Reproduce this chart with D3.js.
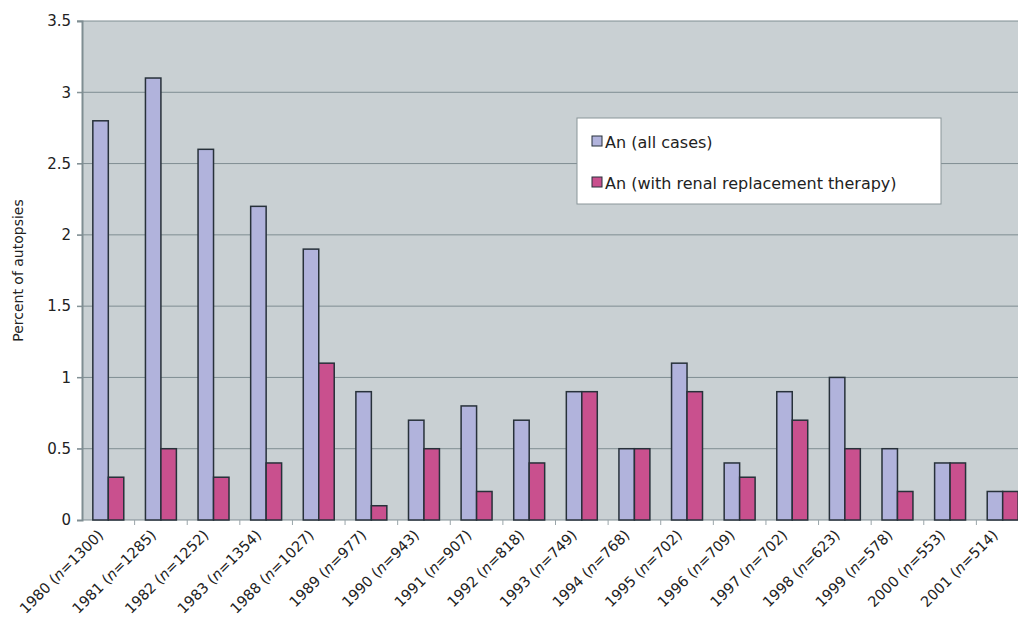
<!DOCTYPE html>
<html>
<head>
<meta charset="utf-8">
<script src="https://cdn.jsdelivr.net/npm/d3@7/dist/d3.min.js"></script>
<style>
body{margin:0;background:#fff;}
svg{display:block;overflow:hidden;}
</style>
</head>
<body>
<div id="chart"></div>
<script>
// data
var years = ["1980","1981","1982","1983","1988","1989","1990","1991","1992","1993","1994","1995","1996","1997","1998","1999","2000","2001"];
var nCases = [1300,1285,1252,1354,1027,977,943,907,818,749,768,702,709,702,623,578,553,514];
var allCases = [2.8,3.1,2.6,2.2,1.9,0.9,0.7,0.8,0.7,0.9,0.5,1.1,0.4,0.9,1.0,0.5,0.4,0.2];
var renalCases = [0.3,0.5,0.3,0.4,1.1,0.1,0.5,0.2,0.4,0.9,0.5,0.9,0.3,0.7,0.5,0.2,0.4,0.2];
var yTicks = [0,0.5,1,1.5,2,2.5,3,3.5];
var seriesNames = ["An (all cases)","An (with renal replacement therapy)"];
var colors = ["#b1b3dc","#c9508e"];

var W = 1018, H = 626;
var margin = {top:21, left:82};
var plotW = 947, plotH = 499; // plot runs past the right edge like the original

var svg = d3.select("#chart").append("svg")
	.attr("width",W).attr("height",H);

var x = d3.scaleBand().domain(years).range([margin.left, margin.left+plotW]);
var xs = d3.scaleBand().domain([0,1]).range([0, x.bandwidth()]).paddingInner(0).paddingOuter(0.7);
var y = d3.scaleLinear().domain([0,3.5]).range([margin.top+plotH, margin.top]);

// plot background
svg.append("rect")
	.attr("x",margin.left).attr("y",margin.top)
	.attr("width",plotW).attr("height",plotH)
	.attr("fill","#c9d0d3");

// gridlines
svg.append("g").selectAll("line").data(yTicks.slice(1)).enter().append("line")
	.attr("x1",margin.left-5).attr("x2",margin.left+plotW)
	.attr("y1",function(d){return y(d);}).attr("y2",function(d){return y(d);})
	.attr("stroke","#7f8d92").attr("stroke-width",1);

// y axis
var yAxis = svg.append("g")
	.attr("transform","translate("+margin.left+",0)")
	.call(d3.axisLeft(y).tickValues(yTicks).tickSize(5).tickFormat(function(d){return d;}));
yAxis.select(".domain").attr("stroke","#7f8d92").attr("stroke-width",2);
yAxis.selectAll(".tick line").attr("stroke","#7f8d92");
yAxis.selectAll(".tick text")
	.attr("font-family","DejaVu Sans, Verdana, sans-serif")
	.attr("font-size","15px").attr("fill","#222").attr("x",-11);

// x axis
var xAxis = svg.append("g")
	.attr("transform","translate(0,"+(margin.top+plotH)+")");
xAxis.append("line")
	.attr("x1",margin.left).attr("x2",margin.left+plotW)
	.attr("stroke","#7f8d92");
xAxis.selectAll(".tk").data(years).enter().append("line")
	.attr("class","tk")
	.attr("x1",function(d){return x(d)+x.bandwidth();})
	.attr("x2",function(d){return x(d)+x.bandwidth();})
	.attr("y1",0).attr("y2",5)
	.attr("stroke","#9aa5a9");

var lbl = xAxis.selectAll(".lbl").data(years).enter().append("text")
	.attr("class","lbl")
	.attr("transform",function(d){
		return "translate("+(x(d)+x.bandwidth()/2-4)+",16) rotate(-45)";
	})
	.attr("text-anchor","end")
	.attr("font-family","DejaVu Sans, Verdana, sans-serif")
	.attr("font-size","14.5px").attr("fill","#222");
lbl.each(function(d,i){
	var t = d3.select(this);
	t.append("tspan").text(d+" (");
	t.append("tspan").attr("font-style","italic").text("n");
	t.append("tspan").text("="+nCases[i]+")");
});

// bars
var groups = svg.append("g").selectAll("g").data(years).enter().append("g")
	.attr("transform",function(d){return "translate("+x(d)+",0)";});
groups.selectAll("rect").data(function(d,i){return [allCases[i],renalCases[i]];})
	.enter().append("rect")
	.attr("x",function(d,j){return xs(j);})
	.attr("width",xs.bandwidth())
	.attr("y",function(d){return y(d);})
	.attr("height",function(d){return y(0)-y(d);})
	.attr("fill",function(d,j){return colors[j];})
	.attr("stroke","#27313a").attr("stroke-width",1.5);

// y axis title
svg.append("text")
	.attr("transform","translate(23,"+(margin.top+plotH/2)+") rotate(-90)")
	.attr("text-anchor","middle")
	.attr("font-family","DejaVu Sans, Verdana, sans-serif")
	.attr("font-size","14px").attr("fill","#222")
	.text("Percent of autopsies");

// legend
var leg = svg.append("g").attr("transform","translate(577,118)");
leg.append("rect").attr("width",364).attr("height",86)
	.attr("fill","#fff").attr("stroke","#8a9599");
var li = leg.selectAll(".li").data(seriesNames).enter().append("g")
	.attr("transform",function(d,i){return "translate(15,"+(24+i*41)+")";});
li.append("rect").attr("x",0).attr("y",-6).attr("width",10).attr("height",10)
	.attr("fill",function(d,i){return colors[i];})
	.attr("stroke","#27313a").attr("stroke-width",1);
li.append("text").attr("x",13).attr("y",0).attr("dy","0.35em")
	.attr("font-family","DejaVu Sans, Verdana, sans-serif")
	.attr("font-size","16px").attr("fill","#222")
	.text(function(d){return d;});
</script>
</body>
</html>
